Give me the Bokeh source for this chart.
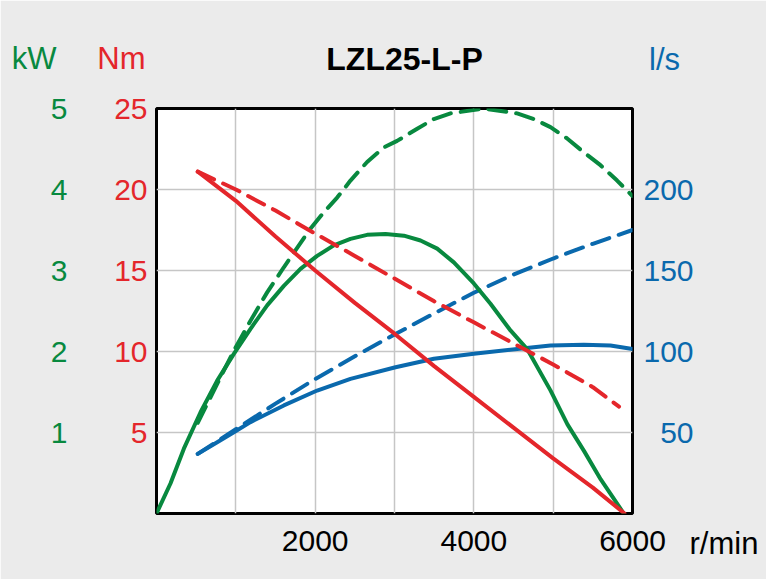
from bokeh.plotting import figure
from bokeh.models import Range1d, LinearAxis, FixedTicker, Label
from bokeh.embed import file_html
from bokeh.resources import INLINE

# ---- data ----
title_text = "LZL25-L-P"
x_ticks = [2000, 4000, 6000]
x_grid = [1000, 2000, 3000, 4000, 5000]
nm_ticks = [5, 10, 15, 20, 25]
kw_ticks = [1, 2, 3, 4, 5]
ls_ticks = [50, 100, 150, 200]

# torque (Nm)
rpm_torque = [520, 1000, 1500, 2000, 2500, 3000, 3500, 4000, 4500, 5000, 5500, 5900]
torque_solid = [21.1, 19.3, 17.1, 15.0, 13.0, 11.1, 9.1, 7.2, 5.3, 3.4, 1.6, 0.0]
rpm_torque_d = [520, 1000, 1500, 1920, 2500, 3000, 3500, 4000, 4500, 5000, 5500, 5830]
torque_dashed = [21.1, 20.0, 18.7, 17.5, 15.9, 14.5, 13.1, 11.8, 10.5, 9.2, 7.8, 6.6]

# power (kW)
rpm_power = [0, 176, 345, 555, 765, 975, 1185, 1395, 1605, 1815, 2025, 2235, 2445,
             2655, 2887, 3118, 3328, 3538, 3748, 4000, 4210, 4462, 4672, 4966,
             5180, 5390, 5600, 5890]
power_solid = [0.0, 0.37, 0.80, 1.25, 1.64, 1.97, 2.28, 2.57, 2.81, 3.02, 3.18, 3.31, 3.39,
               3.44, 3.45, 3.43, 3.37, 3.27, 3.10, 2.84, 2.59, 2.26, 2.03, 1.52,
               1.10, 0.77, 0.42, 0.0]
rpm_power_d = [520, 765, 975, 1185, 1395, 1605, 1920, 2110, 2277, 2445, 2655, 2866, 3033,
               3286, 3496, 3706, 4126, 4546, 4756, 4966, 5176, 5386, 5596, 5806, 6000]
power_dashed = [1.12, 1.60, 2.01, 2.38, 2.73, 3.04, 3.49, 3.72, 3.90, 4.11, 4.34, 4.52, 4.60,
                4.75, 4.87, 4.94, 5.0, 4.94, 4.87, 4.77, 4.63, 4.46, 4.30, 4.11, 3.92]

# flow (l/s)
rpm_flow = [520, 765, 975, 1185, 1605, 2025, 2445, 3013, 3496, 4000, 4546, 4966, 5386, 5722, 6000]
flow_solid = [36.8, 44.0, 50.2, 56.4, 66.7, 75.9, 83.1, 90.3, 95.5, 98.6, 101.6, 103.7, 104.1, 103.7, 101.6]
rpm_flow_d = [520, 1000, 1500, 2000, 2500, 3000, 3500, 4000, 4500, 5000, 5500, 6000]
flow_dashed = [36.8, 52.0, 67.8, 83.0, 97.0, 110.5, 123.5, 136.3, 147.5, 157.4, 166.5, 175.0]

GREEN = "#08893f"
RED = "#e4262b"
BLUE = "#0a69ad"
BG = "#ebebeb"
FONT = "Liberation Sans"
FS = "30px"
UFS = "31px"

p = figure(width=766, height=579, x_range=Range1d(0, 6000), y_range=Range1d(0, 25),
           output_backend="svg", toolbar_location=None, title=None,
           min_border_left=156, min_border_right=134, min_border_top=108,
           min_border_bottom=66)
p.extra_y_ranges = {"kw": Range1d(0, 5), "ls": Range1d(0, 250)}
p.background_fill_color = "white"
p.border_fill_color = BG
p.outline_line_color = "black"
p.outline_line_width = 3

p.xgrid.ticker = FixedTicker(ticks=x_grid)
p.ygrid.ticker = FixedTicker(ticks=[5, 10, 15, 20])
for g in (p.xgrid, p.ygrid):
    g.grid_line_color = "#c6c6c6"
    g.grid_line_width = 1.5


def style_axis(ax, color, standoff):
    ax.major_label_text_font = FONT
    ax.major_label_text_font_size = FS
    ax.major_label_text_color = color
    ax.major_label_standoff = standoff
    ax.major_tick_out = 0
    ax.major_tick_in = 0
    ax.minor_tick_out = 0
    ax.minor_tick_in = 0
    ax.axis_line_color = None


def unit_label(text, x, y, color, align, size=UFS, style="normal"):
    return Label(x=x, y=y, x_units="screen", y_units="screen", text=text,
                 text_color=color, text_align=align, text_baseline="alphabetic",
                 text_font=FONT, text_font_size=size, text_font_style=style)


xa = p.xaxis[0]
xa.ticker = FixedTicker(ticks=x_ticks)
style_axis(xa, "black", 17)

nm = p.yaxis[0]
nm.ticker = FixedTicker(ticks=nm_ticks)
style_axis(nm, RED, 9)

# left side, from the frame outwards: Nm axis, "Nm", kW axis, "kW"
p.add_layout(unit_label("Nm", 82, 455, RED, "right"), "left")
kw = LinearAxis(y_range_name="kw", ticker=FixedTicker(ticks=kw_ticks))
style_axis(kw, GREEN, -4)
p.add_layout(kw, "left")
p.add_layout(unit_label("kW", 54, 455, GREEN, "right"), "left")

ls = LinearAxis(y_range_name="ls", ticker=FixedTicker(ticks=ls_ticks),
                major_label_overrides={50: "\u200750"})
style_axis(ls, BLUE, 11)
p.add_layout(ls, "right")
p.add_layout(unit_label("r/min", -7, -30, "black", "left"), "right")

# above: title, then "l/s"
p.add_layout(unit_label(title_text, 248, 50, "black", "center", "32px", "bold"), "above")
p.add_layout(unit_label("l/s", 508, 13, BLUE, "center"), "above")

# curves
p.line(rpm_flow_d, flow_dashed, y_range_name="ls", line_color=BLUE, line_width=4,
       line_dash="18 10", line_cap="round")
p.line(rpm_flow, flow_solid, y_range_name="ls", line_color=BLUE, line_width=4,
       line_cap="round", line_join="round")
p.line(rpm_power_d, power_dashed, y_range_name="kw", line_color=GREEN, line_width=4,
       line_dash="18 10", line_cap="round")
p.line(rpm_power, power_solid, y_range_name="kw", line_color=GREEN, line_width=4,
       line_cap="round", line_join="round")
p.line(rpm_torque_d, torque_dashed, line_color=RED, line_width=4,
       line_dash="18 10", line_cap="round")
p.line(rpm_torque, torque_solid, line_color=RED, line_width=4, line_cap="round")

open("out.html", "w").write(file_html(p, INLINE))
